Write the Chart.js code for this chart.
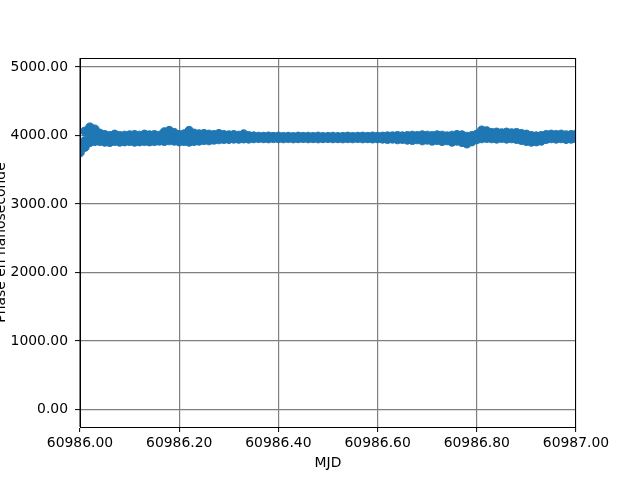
<!DOCTYPE html>
<html>
<head>
<meta charset="utf-8">
<script src="https://cdn.jsdelivr.net/npm/chart.js@4.4.1/dist/chart.umd.min.js"></script>
<style>
html,body{margin:0;padding:0;background:#fff;}
canvas{display:block;}
</style>
</head>
<body>
<canvas id="c" width="640" height="480"></canvas>
<script>
const mjd = [60986.00,60986.01,60986.02,60986.03,60986.04,60986.05,60986.06,60986.07,60986.08,60986.09,
60986.10,60986.11,60986.12,60986.13,60986.14,60986.15,60986.16,60986.17,60986.18,60986.19,
60986.20,60986.21,60986.22,60986.23,60986.24,60986.25,60986.26,60986.27,60986.28,60986.29,
60986.30,60986.31,60986.32,60986.33,60986.34,60986.35,60986.36,60986.37,60986.38,60986.39,
60986.40,60986.41,60986.42,60986.43,60986.44,60986.45,60986.46,60986.47,60986.48,60986.49,
60986.50,60986.51,60986.52,60986.53,60986.54,60986.55,60986.56,60986.57,60986.58,60986.59,
60986.60,60986.61,60986.62,60986.63,60986.64,60986.65,60986.66,60986.67,60986.68,60986.69,
60986.70,60986.71,60986.72,60986.73,60986.74,60986.75,60986.76,60986.77,60986.78,60986.79,
60986.80,60986.81,60986.82,60986.83,60986.84,60986.85,60986.86,60986.87,60986.88,60986.89,
60986.90,60986.91,60986.92,60986.93,60986.94,60986.95,60986.96,60986.97,60986.98,60986.99,
60987.00];

const phaseHigh = [3880,4060,4120,4090,4030,4010,3995,4015,3995,4000,
4005,4010,4000,4015,4005,4010,4000,4050,4070,4040,
4010,4020,4070,4030,4020,4025,4015,4010,4025,4010,
4005,4010,4000,4020,3995,3990,3985,3984,3988,3982,
3986,3981,3984,3980,3986,3982,3984,3981,3986,3980,
3982,3984,3980,3982,3986,3981,3984,3986,3982,3988,
3984,3986,3990,3990,3995,3990,3995,4000,3995,4005,
4000,3995,4005,4000,3990,4000,4010,4005,3985,3995,
4015,4075,4065,4040,4045,4035,4045,4035,4040,4025,
4015,3995,3990,3995,4010,4015,4010,4015,4005,4010,
4015];

const phaseMid = [3820,3920,3990,3990,3970,3960,3950,3965,3955,3960,
3960,3960,3955,3965,3960,3965,3960,3985,4000,3985,
3960,3970,3990,3975,3970,3980,3970,3975,3985,3980,
3975,3980,3975,3985,3972,3972,3970,3970,3971,3969,
3970,3968,3970,3967,3970,3969,3970,3968,3970,3967,
3969,3970,3967,3968,3971,3968,3970,3970,3969,3970,
3968,3968,3968,3970,3968,3968,3965,3965,3968,3965,
3968,3958,3968,3960,3958,3955,3965,3952,3935,3955,
3980,4015,4012,3998,3998,3998,3998,3995,3992,3978,
3965,3950,3950,3958,3978,3985,3980,3985,3975,3980,
3985];

const phaseLow = [3750,3830,3900,3915,3915,3905,3900,3915,3905,3910,
3915,3905,3910,3915,3910,3915,3920,3915,3925,3920,
3910,3915,3905,3915,3920,3930,3925,3935,3940,3945,
3945,3950,3948,3952,3950,3955,3958,3956,3954,3958,
3956,3955,3958,3954,3956,3958,3955,3957,3954,3956,
3958,3955,3956,3954,3957,3955,3958,3954,3956,3952,
3955,3950,3945,3950,3940,3945,3935,3930,3940,3925,
3935,3920,3930,3915,3925,3905,3920,3900,3880,3910,
3940,3955,3960,3955,3950,3960,3950,3955,3945,3930,
3915,3905,3910,3920,3945,3955,3950,3955,3945,3950,
3955];

const xTicks = [60986.0, 60986.2, 60986.4, 60986.6, 60986.8, 60987.0];
const yTicks = [0, 1000, 2000, 3000, 4000, 5000];
const xLabel = "MJD";
const yLabel = "Phase en nanoseconde";

const points = [];
mjd.forEach((x, i) => {
  points.push({x: x, y: phaseHigh[i]});
  points.push({x: x, y: phaseMid[i]});
  points.push({x: x, y: phaseLow[i]});
});

const FONT = "DejaVu Sans";
const FS = 13.9;

const framePlugin = {
  id: 'frame',
  afterDraw(chart) {
    const ctx = chart.ctx, a = chart.chartArea;
    ctx.save();
    ctx.strokeStyle = '#000';
    ctx.lineWidth = 1;
    ctx.strokeRect(Math.round(a.left) + 0.5, Math.round(a.top) + 0.5, Math.round(a.right - a.left) - 1, Math.round(a.bottom - a.top));
    ctx.fillStyle = '#000';
    ctx.font = FS + 'px "' + FONT + '"';
    ctx.textAlign = 'center';
    ctx.textBaseline = 'alphabetic';
    ctx.fillText(xLabel, (a.left + a.right) / 2, 467);
    ctx.translate(5, (a.top + a.bottom) / 2);
    ctx.rotate(-Math.PI / 2);
    ctx.fillText(yLabel, 0, 0);
    ctx.restore();
  }
};

new Chart(document.getElementById('c'), {
  type: 'scatter',
  data: {
    datasets: [{
      data: points,
      backgroundColor: '#1f77b4',
      borderColor: '#1f77b4',
      borderWidth: 1,
      pointRadius: 4.3,
      pointHoverRadius: 4.3
    }]
  },
  options: {
    responsive: false,
    animation: false,
    devicePixelRatio: 1,
    layout: {padding: {left: 0, right: 64, top: 58, bottom: 0}},
    plugins: {legend: {display: false}, tooltip: {enabled: false}},
    scales: {
      x: {
        type: 'linear',
        min: 60986.0,
        max: 60987.0,
        afterBuildTicks: s => { s.ticks = xTicks.map(v => ({value: v})); },
        afterFit: s => { s.height = 53; },
        ticks: {
          color: '#000',
          font: {family: FONT, size: FS},
          padding: 3,
          maxRotation: 0,
          autoSkip: false,
          callback: v => Number(v).toFixed(2)
        },
        grid: {color: '#808080', lineWidth: 1.2, tickColor: '#000', tickLength: 5, tickWidth: 1},
        border: {color: '#000', width: 1}
      },
      y: {
        type: 'linear',
        min: -255,
        max: 5130,
        afterBuildTicks: s => { s.ticks = yTicks.map(v => ({value: v})); },
        afterFit: s => { s.width = 80; },
        ticks: {
          color: '#000',
          font: {family: FONT, size: FS},
          padding: 7,
          autoSkip: false,
          callback: v => Number(v).toFixed(2)
        },
        grid: {color: '#808080', lineWidth: 1.2, tickColor: '#000', tickLength: 5, tickWidth: 1},
        border: {color: '#000', width: 1}
      }
    }
  },
  plugins: [framePlugin]
});
</script>
</body>
</html>
